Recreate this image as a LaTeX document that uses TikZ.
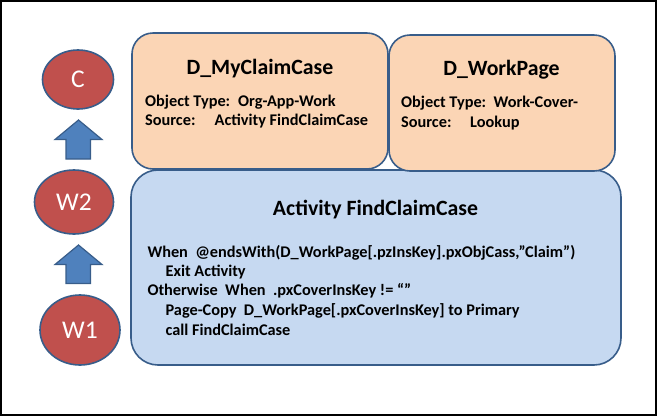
\documentclass[tikz,border=0pt]{standalone}
\usepackage{fontspec}
\setmainfont{Carlito}
\usetikzlibrary{shapes.geometric}
\definecolor{redfill}{HTML}{C0504D}
\definecolor{edgeblue}{HTML}{385D8A}
\definecolor{arrowfill}{HTML}{4F81BD}
\definecolor{orangefill}{HTML}{FBD5B5}
\definecolor{bluefill}{HTML}{C6D9F1}
\tikzset{
  box/.style={draw=edgeblue, line width=1.6pt, rounded corners=21pt, anchor=north west, inner sep=0pt, outer sep=0pt},
  circ/.style={ellipse, draw=edgeblue, line width=1.6pt, fill=redfill, text=white, inner sep=0pt, font=\fontsize{25.5}{28}\selectfont},
  blockarrow/.style={draw=edgeblue, line width=1.2pt, fill=arrowfill},
  ttl/.style={anchor=base, inner sep=0pt, font=\bfseries\fontsize{21.8}{24}\selectfont},
  txt/.style={anchor=base west, inner sep=0pt, font=\bfseries\fontsize{16.3}{19.5}\selectfont},
}
\begin{document}
\begin{tikzpicture}[x=1pt,y=-1pt]
\useasboundingbox (0,0) rectangle (657,416);
\draw[line width=2pt] (1,1) rectangle (656,415);
% blue box
\node[box, fill=bluefill, minimum width=490pt, minimum height=195pt, rounded corners=27pt] (act) at (131,170) {};
% orange boxes
\node[box, fill=orangefill, minimum width=256pt, minimum height=136pt] (mcc) at (132,33) {};
\node[box, fill=orangefill, minimum width=226pt, minimum height=136pt] (wp) at (389,35) {};
% titles
\node[ttl] (t1) at (260,74) {D\_MyClaimCase};
\node[ttl] (t2) at (501.5,75.5) {D\_WorkPage};
\node[ttl] (t3) at (375.5,215) {Activity FindClaimCase};
% box 1 text
\node[txt] (a1) at (145,106) {Object Type:};
\node[txt] (a2) at (238,106) {Org-App-Work};
\node[txt] (a3) at (145,125) {Source:};
\node[txt] (a4) at (214.5,125) {Activity FindClaimCase};
% box 2 text
\node[txt] (b1) at (401,107.5) {Object Type:};
\node[txt] (b2) at (493.5,107.5) {Work-Cover-};
\node[txt] (b3) at (401,127) {Source:};
\node[txt] (b4) at (470,127) {Lookup};
% activity text
\node[txt] (c1) at (147.3,257) {When\ \ @endsWith(D\_WorkPage[.pzInsKey].pxObjCass,”Claim”)};
\node[txt] (c2) at (165.4,276) {Exit Activity};
\node[txt] (c3) at (147.3,295.5) {Otherwise\ \ When\ \ .pxCoverInsKey != “”};
\node[txt] (c4) at (165.4,315.5) {Page-Copy\ \ D\_WorkPage[.pxCoverInsKey] to Primary};
\node[txt] (c5) at (165.4,335) {call FindClaimCase};
% circles
\node[circ, minimum width=71pt, minimum height=59pt] (C) at (78,79.5) {C};
\node[circ, minimum width=79pt, minimum height=64pt] (W2) at (74,202) {W2};
\node[circ, minimum width=80pt, minimum height=70pt] (W1) at (80,330) {W1};
% block arrows
\draw[blockarrow] (66,159) -- (66,139.5) -- (55,139.5) -- (78.5,120) -- (102,139.5) -- (90.5,139.5) -- (90.5,159) -- cycle;
\draw[blockarrow] (66,283.5) -- (66,264.5) -- (55,264.5) -- (78.5,245) -- (102,264.5) -- (90.5,264.5) -- (90.5,283.5) -- cycle;
\end{tikzpicture}
\end{document}
